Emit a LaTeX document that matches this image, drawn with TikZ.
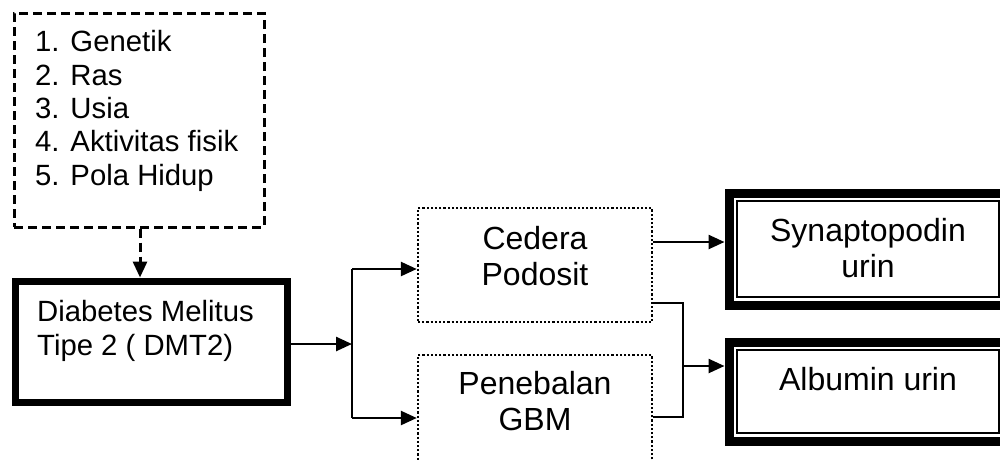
\documentclass[tikz,border=0pt]{standalone}
\usepackage{fontspec}
\setmainfont{Liberation Sans}
\usetikzlibrary{arrows.meta,calc}
\begin{document}
\begin{tikzpicture}[x=1pt,y=-1pt,
  txtl/.style={font=\fontsize{29.3}{33.3}\selectfont, inner sep=0pt},
  txtr/.style={font=\fontsize{32}{35.5}\selectfont, inner sep=0pt},
  riskbox/.style={draw, line width=3pt, dash pattern=on 9pt off 5pt, minimum width=250pt, minimum height=214pt, inner sep=0pt},
  mainbox/.style={draw, line width=7pt, minimum width=272pt, minimum height=121pt, inner sep=0pt},
  dotbox/.style={draw, line width=2.4pt, dash pattern=on 2.2pt off 2pt, minimum width=234pt, minimum height=114pt, inner sep=0pt},
  outbox/.style={draw, line width=9pt, minimum width=278pt, inner sep=0pt},
  innerline/.style={line width=2pt},
  conn/.style={line width=2.5pt},
  arr/.style={line width=2.5pt, -{Triangle[length=16pt,width=14pt]}},
  darr/.style={line width=3pt, dash pattern=on 9pt off 5pt, -{Triangle[length=16pt,width=14pt]}}
]
\useasboundingbox (0,0) rectangle (1000,459);
\clip (0,0) rectangle (1000,459);
\fill[white] (0,0) rectangle (1000,459);

% boxes
\node[riskbox] (risk) at (139,120) {};
\node[mainbox] (dm) at (151,341.5) {};
\node[dotbox] (ced) at (535,265) {};
\node[dotbox] (pen) at (535,412) {};
\node[outbox, minimum height=112pt] (syn) at (868,249) {};
\node[outbox, minimum height=99pt] (alb) at (868,391.5) {};
\draw[innerline] ($(syn.north west)+(12.5,12.5)$) rectangle ($(syn.south east)+(-12.5,-12.5)$);
\draw[innerline] ($(alb.north west)+(12.5,12.5)$) rectangle ($(alb.south east)+(-12.5,-12.5)$);

% texts (base anchor = baseline of last line)
\node[txtl, anchor=base west, align=left] (risktxt) at (35,185) {1. Genetik\\2. Ras\\3. Usia\\4. Aktivitas fisik\\5. Pola Hidup};
\node[txtl, anchor=base west, align=left] (dmtxt) at (37,355) {Diabetes Melitus\\Tipe 2 ( DMT2)};
\node[txtr, anchor=base, align=center] (cedtxt) at (535,285) {Cedera\\Podosit};
\node[txtr, anchor=base, align=center] (pentxt) at (535,430) {Penebalan\\GBM};
\node[txtr, anchor=base, align=center] (syntxt) at (868,277) {Synaptopodin\\urin};
\node[txtr, anchor=base, align=center] (albtxt) at (868,390) {Albumin urin};

% connectors
\coordinate (j1) at (352,269);
\coordinate (j2) at (352,418);
\coordinate (j3) at (683,366);
\draw[darr] (risk.south -| 140,0) -- (dm.north -| 140,0);
\draw[arr] (dm.east |- 0,344) -- (j1 |- 0,344);
\draw[conn] (j1) -- (j2);
\draw[arr] (j1) -- (j1 -| ced.west);
\draw[arr] (j2) -- (j2 -| pen.west);
\draw[arr] (ced.east |- 0,242) -- (syn.west |- 0,242);
\draw[conn] (ced.east |- 0,303) -- (683,303) -- (683,417) -- (pen.east |- 0,417);
\draw[arr] (j3) -- (j3 -| alb.west);
\end{tikzpicture}
\end{document}
